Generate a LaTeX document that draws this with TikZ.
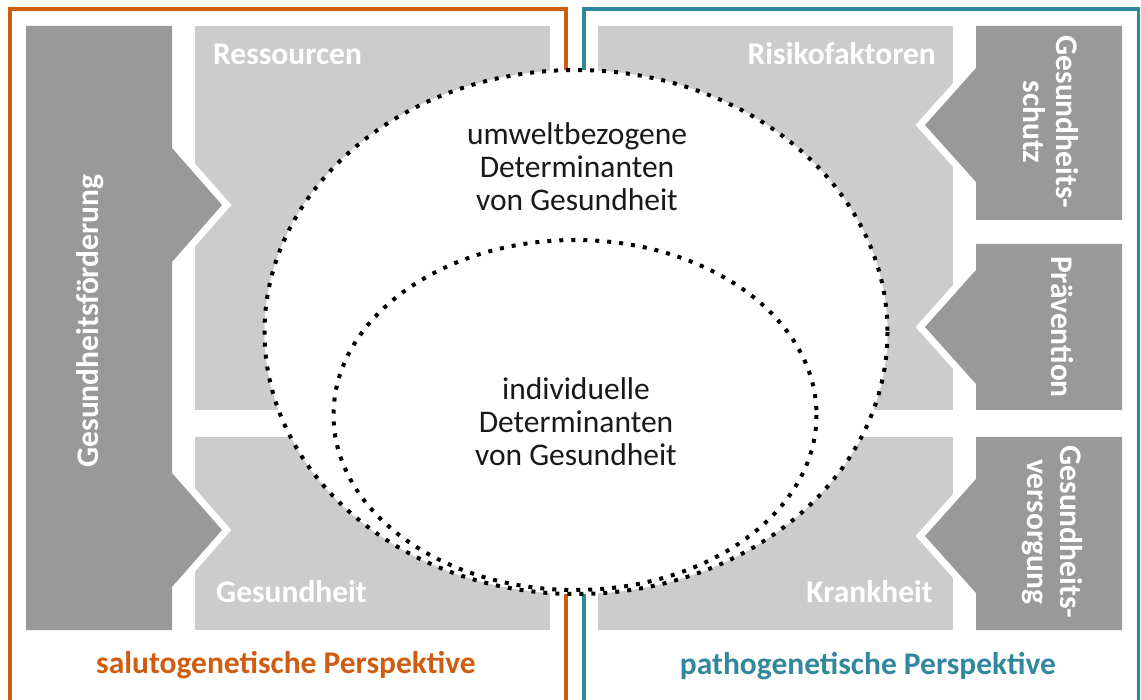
\documentclass[tikz,border=0pt]{standalone}
\usepackage{fontspec}
\setmainfont{Carlito}
\definecolor{dgray}{RGB}{153,153,153}
\definecolor{lgray}{RGB}{204,204,204}
\definecolor{salu}{RGB}{208,92,16}
\definecolor{patho}{RGB}{49,135,155}
\begin{document}
\begin{tikzpicture}[x=1pt,y=-1pt,
  lightbox/.style={fill=lgray},
  darkbox/.style={fill=dgray, preaction={draw=white, line width=14pt, line join=miter}},
  frameline/.style={line width=3.5pt, line join=miter},
  dotline/.style={draw=black, line width=4pt, dash pattern=on 4pt off 8pt},
  boxlabel/.style={text=white, font=\fontsize{31.5}{33}\selectfont\bfseries, inner sep=0pt},
  persp/.style={font=\fontsize{31.5}{33}\selectfont\bfseries, inner sep=0pt, anchor=base},
  detlabel/.style={font=\fontsize{31.5}{33}\selectfont, align=center, inner sep=0pt, text=black!90}
]
\useasboundingbox (0,0) rectangle (1141,700);

% perspective frames, open at the bottom
\draw[frameline, salu] (10,703) -- (10,9) -- (566,9) -- (566,703);
\draw[frameline, patho] (584,703) -- (584,9) -- (1138.5,9) -- (1138.5,703);

% light grey fields
\fill[lightbox] (195,26) rectangle (550,410);
\fill[lightbox] (195,437) rectangle (550,630);
\fill[lightbox] (598,26) rectangle (953,410);
\fill[lightbox] (598,437) rectangle (953,630);

% dark grey arrow blocks with white outline
\path[darkbox] (26,26) -- (172,26) -- (172,148) -- (222,205) -- (172,262)
  -- (172,473) -- (222,530) -- (172,587) -- (172,630) -- (26,630) -- cycle;
\path[darkbox] (1122,26) -- (976,26) -- (976,68) -- (925,125) -- (976,182)
  -- (976,220) -- (1122,220) -- cycle;
\path[darkbox] (1122,244) -- (976,244) -- (976,270) -- (925,327) -- (976,384)
  -- (976,410) -- (1122,410) -- cycle;
\path[darkbox] (1122,437) -- (976,437) -- (976,479) -- (925,536) -- (976,593)
  -- (976,630) -- (1122,630) -- cycle;

% determinant ellipses
\fill[white] (576,332) ellipse [x radius=311.5, y radius=262];
\draw[dotline] (576,332) ellipse [x radius=311.5, y radius=262];
\draw[dotline] (575,415) ellipse [x radius=241.5, y radius=175];

% field labels
\node[boxlabel, anchor=base west] (res) at (213,65) {Ressourcen};
\node[boxlabel, anchor=base east] (risk) at (936,65) {Risikofaktoren};
\node[boxlabel, anchor=base west] (ges) at (216,602) {Gesundheit};
\node[boxlabel, anchor=base east] (krank) at (933,602) {Krankheit};

% vertical labels
\node[boxlabel, rotate=90] (foerd) at (90,321) {Gesundheitsförderung};
\node[boxlabel, rotate=-90, align=center] (schutz) at (1051,122) {Gesundheits-\\schutz};
\node[boxlabel, rotate=-90] (praev) at (1062,327) {Prävention};
\node[boxlabel, rotate=-90, align=center] (versorg) at (1052,532) {Gesundheits-\\versorgung};

% ellipse texts
\node[detlabel] (umwelt) at (577,167) {umweltbezogene\\Determinanten\\von Gesundheit};
\node[detlabel] (indiv) at (576,422) {individuelle\\Determinanten\\von Gesundheit};

% perspective captions
\node[persp, text=salu] (salucap) at (286,673) {salutogenetische Perspektive};
\node[persp, text=patho] (pathocap) at (868,674) {pathogenetische Perspektive};
\end{tikzpicture}
\end{document}
